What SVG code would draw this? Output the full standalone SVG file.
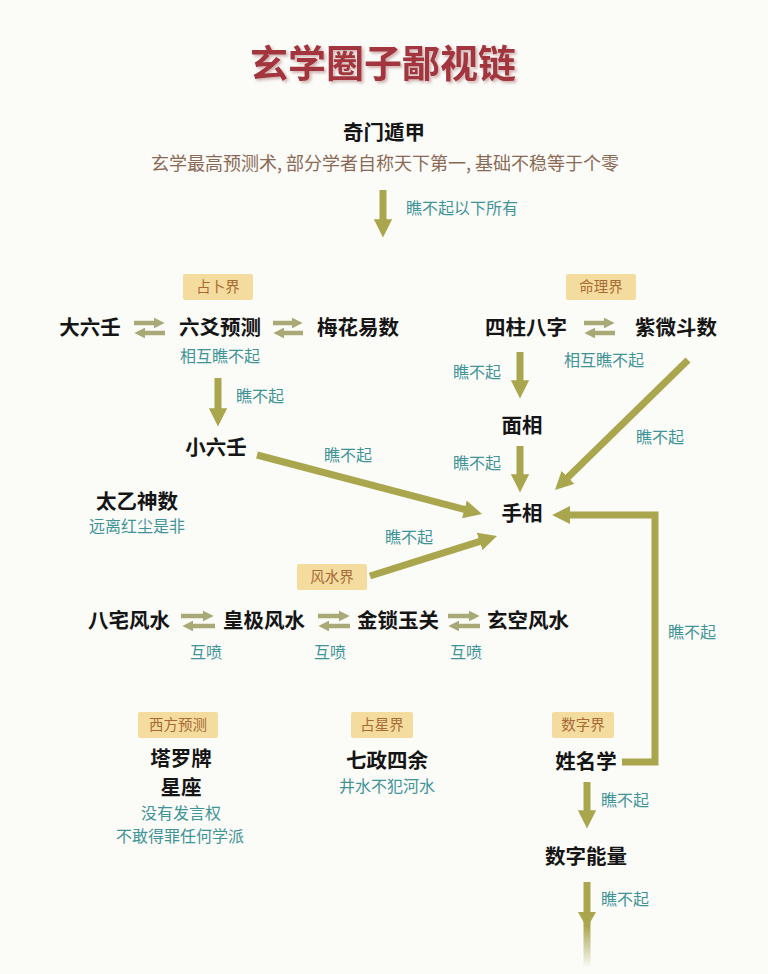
<svg xmlns="http://www.w3.org/2000/svg" width="768" height="974" viewBox="0 0 768 974">
<style>
text{font-family:"Noto Sans CJK SC","Noto Sans",sans-serif;text-anchor:middle}
.node{font-size:20.5px;font-weight:700;fill:#151515}
.lbl{font-size:16px;fill:#3f9497}
.sub{font-size:18px;fill:#8a6a55}
.tag rect{fill:#f4dc9e}
.tag text{font-size:14.5px;fill:#a86a35}
.ar{stroke:#a9a64e;stroke-width:7;fill:none;marker-end:url(#ah)}
.dar{stroke:#a9a877;stroke-width:4.5;fill:none;marker-end:url(#sh)}
</style>
<defs>
<marker id="ah" viewBox="0 0 10 10" refX="2" refY="5" markerWidth="2.6" markerHeight="2.6" orient="auto"><path d="M0,0 L10,5 L0,10 z" fill="#a9a64e"/></marker>
<marker id="sh" viewBox="0 0 10 10" refX="2" refY="5" markerWidth="2.4" markerHeight="2.4" orient="auto"><path d="M0,0 L10,5 L0,10 z" fill="#a9a877"/></marker>
<linearGradient id="fade" x1="0" y1="0" x2="0" y2="1"><stop offset="0" stop-color="#a9a64e"/><stop offset="0.5" stop-color="#a9a64e"/><stop offset="1" stop-color="#a9a64e" stop-opacity="0"/></linearGradient>
<filter id="shadow" x="-10%" y="-30%" width="120%" height="160%"><feDropShadow dx="2" dy="2" stdDeviation="1.5" flood-color="#b08080" flood-opacity="0.6"/></filter>
</defs>
<rect width="768" height="974" fill="#fbfbf8"/>

<g id="title">
<text x="383" y="77" font-size="38" font-weight="700" fill="#a2343c" filter="url(#shadow)">玄学圈子鄙视链</text>
</g>

<g id="connectors">
<path class="ar" d="M383,190 V223"/>
<path class="ar" d="M218,378 V412"/>
<path class="ar" d="M520,352 V384"/>
<path class="ar" d="M520,446 V478"/>
<path class="ar" d="M257,455 L467.9,510.3"/>
<path class="ar" d="M688,360 L565.4,479.8"/>
<path class="ar" d="M370,576 L483.1,540.4"/>
<path class="ar" d="M622,762 H655 V515 H566.6"/>
<path class="ar" d="M587,782 V814"/>
<rect x="583.5" y="882" width="7" height="86" fill="url(#fade)"/>
<polygon points="578,912 596,912 587,928" fill="#a9a64e"/>
<path class="dar" d="M134,323 H156"/>
<path class="dar" d="M165,333 H143"/>
<path class="dar" d="M273,323 H294"/>
<path class="dar" d="M303,333 H282"/>
<path class="dar" d="M584,323 H606"/>
<path class="dar" d="M615,333 H593"/>
<path class="dar" d="M181,616 H205"/>
<path class="dar" d="M215,626 H191"/>
<path class="dar" d="M318,616 H341"/>
<path class="dar" d="M350,626 H327"/>
<path class="dar" d="M448,616 H471"/>
<path class="dar" d="M480,626 H457"/>
<text class="lbl" x="462" y="214">瞧不起以下所有</text>
<text class="lbl" x="220" y="362">相互瞧不起</text>
<text class="lbl" x="604" y="366">相互瞧不起</text>
<text class="lbl" x="260" y="402">瞧不起</text>
<text class="lbl" x="477" y="378">瞧不起</text>
<text class="lbl" x="348" y="461">瞧不起</text>
<text class="lbl" x="477" y="469">瞧不起</text>
<text class="lbl" x="660" y="443">瞧不起</text>
<text class="lbl" x="409" y="543">瞧不起</text>
<text class="lbl" x="206" y="658">互喷</text>
<text class="lbl" x="330" y="658">互喷</text>
<text class="lbl" x="466" y="658">互喷</text>
<text class="lbl" x="692" y="638">瞧不起</text>
<text class="lbl" x="625" y="806">瞧不起</text>
<text class="lbl" x="625" y="905">瞧不起</text>
</g>

<g id="qimen">
<text class="node" x="384" y="140">奇门遁甲</text>
<text class="sub" x="385" y="170">玄学最高预测术, 部分学者自称天下第一, 基础不稳等于个零</text>
</g>

<g id="tag-zhanbu" class="tag"><rect x="183" y="274" width="70" height="26" rx="2"/><text x="218" y="292">占卜界</text></g>
<g id="tag-mingli" class="tag"><rect x="566" y="274" width="70" height="26" rx="2"/><text x="601" y="292">命理界</text></g>
<g id="tag-fengshui" class="tag"><rect x="297" y="564" width="70" height="26" rx="2"/><text x="332" y="582">风水界</text></g>
<g id="tag-xifang" class="tag"><rect x="138" y="712" width="80" height="26" rx="2"/><text x="178" y="730">西方预测</text></g>
<g id="tag-zhanxing" class="tag"><rect x="351" y="712" width="62" height="26" rx="2"/><text x="382" y="730">占星界</text></g>
<g id="tag-shuzi" class="tag"><rect x="552" y="712" width="62" height="26" rx="2"/><text x="583" y="730">数字界</text></g>

<g id="daliuren"><text class="node" x="90" y="335">大六壬</text></g>
<g id="liuyao"><text class="node" x="220" y="335">六爻预测</text></g>
<g id="meihua"><text class="node" x="358" y="335">梅花易数</text></g>
<g id="sizhu"><text class="node" x="526" y="335">四柱八字</text></g>
<g id="ziwei"><text class="node" x="676" y="335">紫微斗数</text></g>
<g id="xiaoliuren"><text class="node" x="216" y="455">小六壬</text></g>
<g id="mianxiang"><text class="node" x="522" y="433">面相</text></g>
<g id="shouxiang"><text class="node" x="522" y="521">手相</text></g>
<g id="taiyi"><text class="node" x="137" y="509">太乙神数</text><text class="lbl" x="137" y="532">远离红尘是非</text></g>
<g id="bazhai"><text class="node" x="129" y="628">八宅风水</text></g>
<g id="huangji"><text class="node" x="264" y="628">皇极风水</text></g>
<g id="jinsuo"><text class="node" x="398" y="628">金锁玉关</text></g>
<g id="xuankong"><text class="node" x="528" y="628">玄空风水</text></g>
<g id="xifang"><text class="node" x="181" y="766">塔罗牌</text><text class="node" x="181" y="795">星座</text><text class="lbl" x="181" y="819">没有发言权</text><text class="lbl" x="180" y="842">不敢得罪任何学派</text></g>
<g id="qizheng"><text class="node" x="387" y="768">七政四余</text><text class="lbl" x="387" y="792">井水不犯河水</text></g>
<g id="xingming"><text class="node" x="586" y="769">姓名学</text></g>
<g id="shuzinengliang"><text class="node" x="586" y="864">数字能量</text></g>
</svg>
